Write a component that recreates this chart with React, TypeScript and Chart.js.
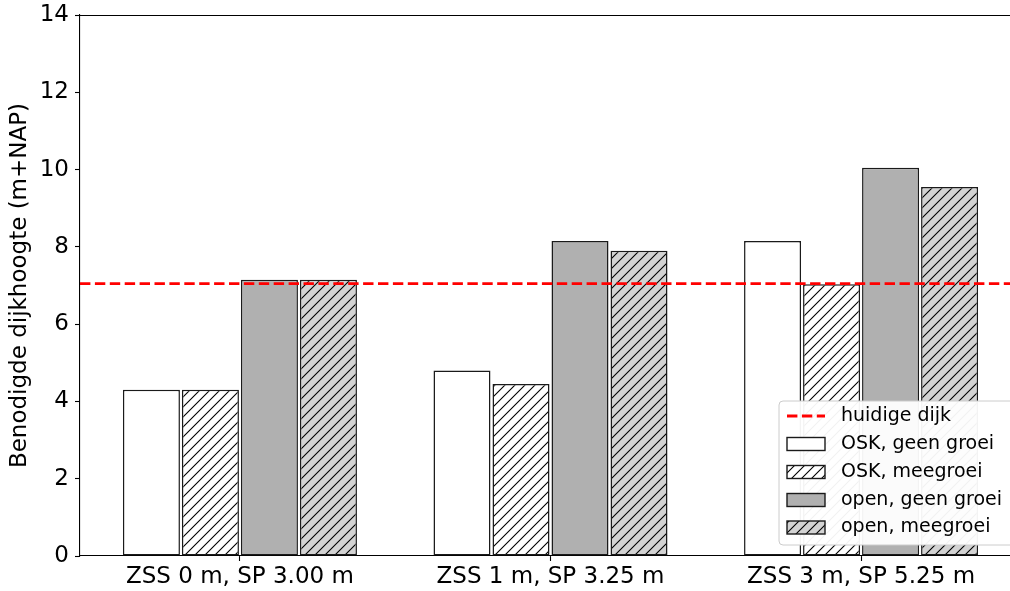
import React, { useEffect, useRef } from "react";
import { Chart, registerables } from "chart.js";

Chart.register(...registerables);

// Scenario groups on the x axis
const categories = ["ZSS 0 m, SP 3.00 m", "ZSS 1 m, SP 3.25 m", "ZSS 3 m, SP 5.25 m"];

// Required dike height per scenario (m+NAP)
const oskGeenGroei = [4.3, 4.8, 8.15];
const oskMeegroei = [4.3, 4.45, 7.03];
const openGeenGroei = [7.15, 8.15, 10.05];
const openMeegroei = [7.15, 7.9, 9.55];

// Current dike height (m+NAP)
const huidigeDijk = 7.05;

const seriesLabels = ["OSK, geen groei", "OSK, meegroei", "open, geen groei", "open, meegroei"];
const lineLabel = "huidige dijk";
const yTitle = "Benodigde dijkhoogte (m+NAP)";
const yTicks = [0, 2, 4, 6, 8, 10, 12, 14];

const X_MIN = -0.515;
const X_MAX = 2.515;
const FONT = "'DejaVu Sans', sans-serif";

function hatchPattern(bg: string): CanvasPattern | string {
  const c = document.createElement("canvas");
  c.width = 10;
  c.height = 10;
  const g = c.getContext("2d");
  if (!g) return bg;
  g.fillStyle = bg;
  g.fillRect(0, 0, 10, 10);
  g.strokeStyle = "#000";
  g.lineWidth = 1.1;
  g.beginPath();
  g.moveTo(-2, 12);
  g.lineTo(12, -2);
  g.moveTo(-2, 2);
  g.lineTo(2, -2);
  g.moveTo(8, 12);
  g.lineTo(12, 8);
  g.stroke();
  const p = g.createPattern(c, "repeat");
  return p || bg;
}

export default function App() {
  const ref = useRef<HTMLCanvasElement | null>(null);

  useEffect(() => {
    const canvas = ref.current;
    if (!canvas) return;

    const fills: (string | CanvasPattern)[] = [
      "#ffffff",
      hatchPattern("#ffffff"),
      "#b0b0b0",
      hatchPattern("#d3d3d3"),
    ];
    const seriesValues = [oskGeenGroei, oskMeegroei, openGeenGroei, openMeegroei];

    const frame = {
      id: "frame",
      afterDatasetsDraw(chart: any) {
        const { ctx, chartArea } = chart;
        ctx.save();
        ctx.strokeStyle = "#000";
        ctx.lineWidth = 1.1;
        ctx.beginPath();
        ctx.moveTo(chartArea.left, chartArea.top + 0.5);
        ctx.lineTo(chartArea.right, chartArea.top + 0.5);
        ctx.stroke();
        ctx.restore();
      },
    };

    const legend = {
      id: "customLegend",
      afterDraw(chart: any) {
        const ctx = chart.ctx as CanvasRenderingContext2D;
        const x0 = 779, y0 = 401, w = 236, h = 144, r = 4;
        ctx.save();
        ctx.beginPath();
        ctx.moveTo(x0 + r, y0);
        ctx.lineTo(x0 + w - r, y0);
        ctx.arcTo(x0 + w, y0, x0 + w, y0 + r, r);
        ctx.lineTo(x0 + w, y0 + h - r);
        ctx.arcTo(x0 + w, y0 + h, x0 + w - r, y0 + h, r);
        ctx.lineTo(x0 + r, y0 + h);
        ctx.arcTo(x0, y0 + h, x0, y0 + h - r, r);
        ctx.lineTo(x0, y0 + r);
        ctx.arcTo(x0, y0, x0 + r, y0, r);
        ctx.closePath();
        ctx.fillStyle = "rgba(255,255,255,0.95)";
        ctx.fill();
        ctx.strokeStyle = "#cccccc";
        ctx.lineWidth = 1;
        ctx.stroke();

        const rows = [416, 444, 472, 500, 527.5];
        const hx = 787, hw = 38;
        ctx.font = `19px ${FONT}`;
        ctx.textBaseline = "middle";
        ctx.textAlign = "left";

        // dashed line entry
        ctx.strokeStyle = "#ff0000";
        ctx.lineWidth = 2.8;
        ctx.setLineDash([10.4, 4.5]);
        ctx.beginPath();
        ctx.moveTo(hx, rows[0]);
        ctx.lineTo(hx + hw, rows[0]);
        ctx.stroke();
        ctx.setLineDash([]);
        ctx.fillStyle = "#000";
        ctx.fillText(lineLabel, 841, rows[0]);

        seriesLabels.forEach((lab, i) => {
          const y = rows[i + 1];
          ctx.fillStyle = fills[i] as any;
          ctx.fillRect(hx, y - 6.5, hw, 13);
          ctx.strokeStyle = "#1a1a1a";
          ctx.lineWidth = 1.4;
          ctx.strokeRect(hx, y - 6.5, hw, 13);
          ctx.fillStyle = "#000";
          ctx.fillText(lab, 841, y);
        });
        ctx.restore();
      },
    };

    const chart = new Chart(canvas, {
      type: "bar",
      data: {
        datasets: [
          {
            type: "line",
            label: lineLabel,
            data: [
              { x: X_MIN, y: huidigeDijk },
              { x: X_MAX, y: huidigeDijk },
            ],
            borderColor: "#ff0000",
            borderWidth: 2.8,
            borderDash: [10.4, 4.5],
            pointRadius: 0,
            fill: false,
            order: 0,
          } as any,
          ...seriesValues.map((vals, i) => ({
            type: "bar" as const,
            label: seriesLabels[i],
            data: vals.map((v, k) => ({ x: k, y: v })),
            backgroundColor: fills[i] as any,
            borderColor: "#1a1a1a",
            borderWidth: 1.5,
            borderSkipped: false,
            categoryPercentage: 0.76,
            barPercentage: 0.966,
            order: 1,
          })),
        ],
      },
      options: {
        responsive: false,
        animation: false,
        devicePixelRatio: 1,
        layout: { padding: { top: 15, right: 9, left: 0, bottom: 0 } },
        plugins: {
          legend: { display: false },
          tooltip: { enabled: false },
        },
        scales: {
          x: {
            type: "linear",
            offset: false,
            min: X_MIN,
            max: X_MAX,
            grid: {
              offset: false,
              drawOnChartArea: false,
              drawTicks: true,
              tickLength: 5,
              tickColor: "#000",
              tickWidth: 1.1,
            },
            border: { color: "#000", width: 1.1 },
            ticks: {
              color: "#000",
              font: { family: FONT, size: 23 },
              padding: 2,
              autoSkip: false,
              maxRotation: 0,
              callback: (v: any) => categories[Number(v)] ?? "",
            },
            afterBuildTicks: (scale: any) => {
              scale.ticks = categories.map((_, i) => ({ value: i }));
            },
            afterFit: (scale: any) => {
              scale.height = 35;
              scale.paddingLeft = 0;
              scale.paddingRight = 0;
            },
          },
          y: {
            min: 0,
            max: 14,
            grid: {
              drawOnChartArea: false,
              drawTicks: true,
              tickLength: 5,
              tickColor: "#000",
              tickWidth: 1.1,
            },
            border: { color: "#000", width: 1.1 },
            ticks: {
              color: "#000",
              font: { family: FONT, size: 23 },
              padding: 6,
            },
            afterBuildTicks: (scale: any) => {
              scale.ticks = yTicks.map((v) => ({ value: v }));
            },
            title: {
              display: true,
              text: yTitle,
              color: "#000",
              font: { family: FONT, size: 23 },
              padding: { top: 6, bottom: 0 },
            },
            afterFit: (scale: any) => {
              scale.width = 80;
              scale.paddingTop = 0;
              scale.paddingBottom = 0;
            },
          },
        },
      },
      plugins: [frame, legend],
    });

    return () => chart.destroy();
  }, []);

  return (
    <div
      style={{
        position: "fixed",
        left: 0,
        top: 0,
        width: 1010,
        height: 591,
        overflow: "hidden",
        background: "#fff",
      }}
    >
      <canvas ref={ref} width={1030} height={591} style={{ display: "block", width: 1030, height: 591 }} />
    </div>
  );
}
